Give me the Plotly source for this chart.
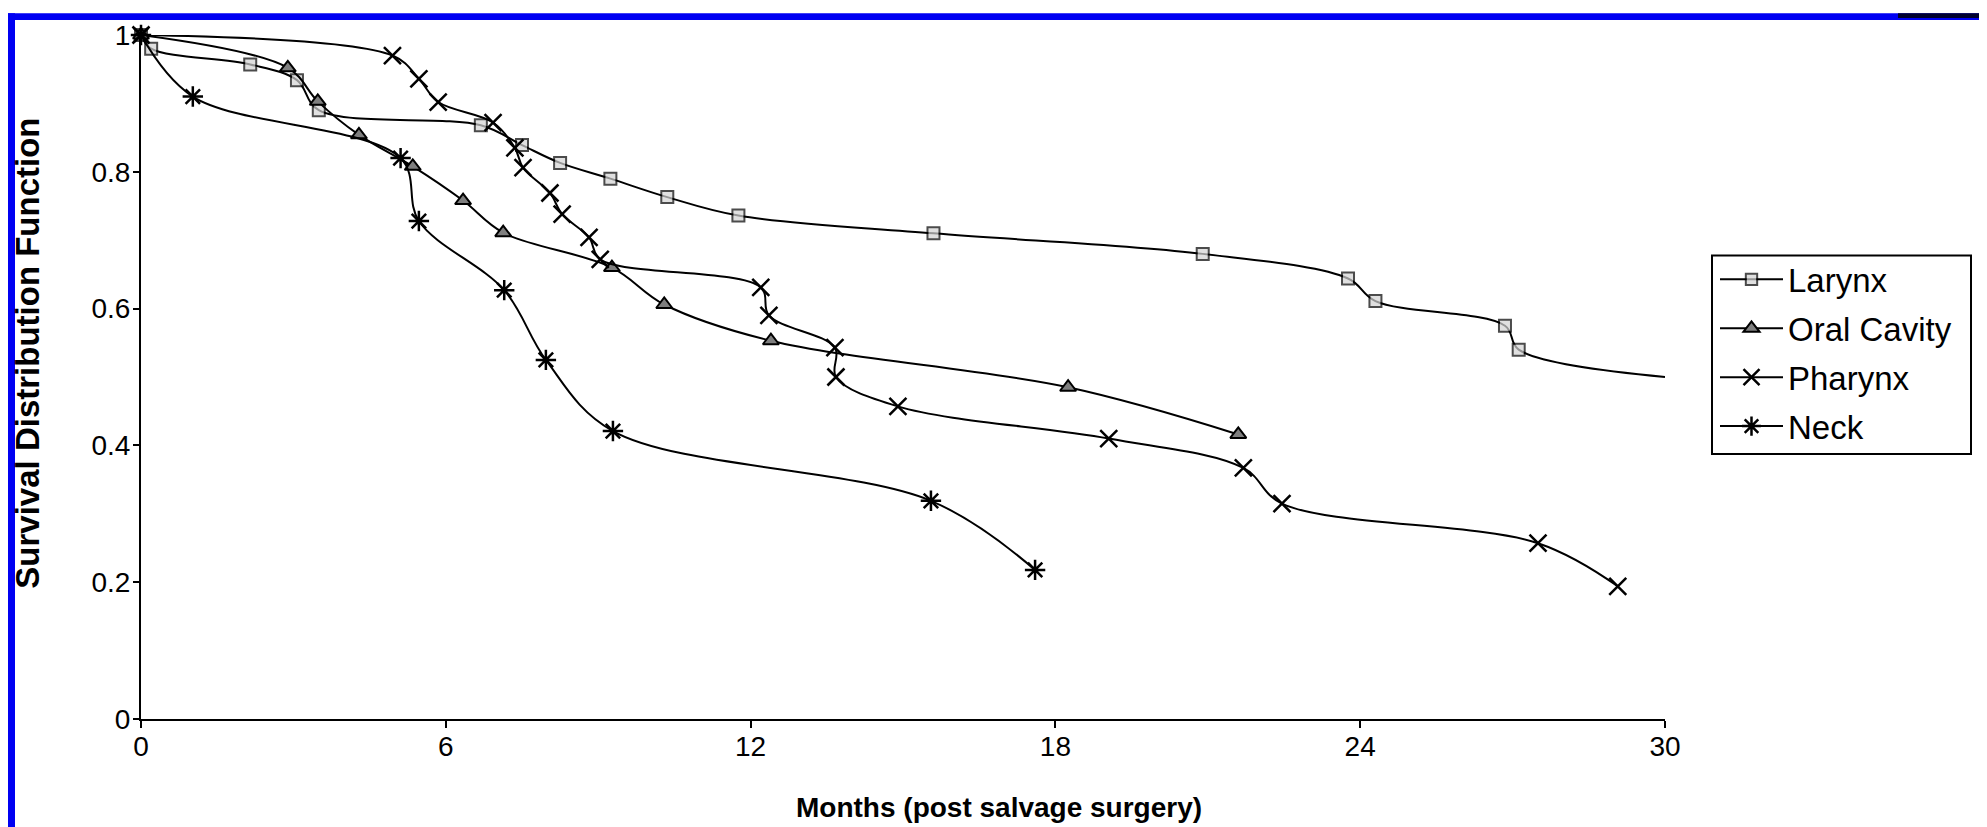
import plotly.graph_objects as go

# ---------------- data ----------------
larynx_x = [0, 0.2, 2.15, 3.07, 3.5, 6.69, 7.5, 8.25, 9.24, 10.36, 11.76, 15.6, 20.9, 23.76, 24.3, 26.85, 27.12, 30]
larynx_y = [1, 0.98, 0.957, 0.934, 0.89, 0.868, 0.839, 0.813, 0.79, 0.763, 0.736, 0.71, 0.68, 0.644, 0.611, 0.575, 0.54, 0.5]

oral_x = [0, 2.89, 3.48, 4.29, 5.35, 6.34, 7.13, 9.27, 10.3, 12.4, 18.25, 21.6]
oral_y = [1, 0.952, 0.903, 0.854, 0.808, 0.758, 0.711, 0.66, 0.606, 0.553, 0.485, 0.416]

pharynx_x = [0, 4.95, 5.47, 5.85, 6.93, 7.36, 7.52, 8.05, 8.29, 8.82, 9.04, 12.2, 12.36, 13.66, 13.68, 14.9, 19.05, 21.7, 22.46, 27.5, 29.07]
pharynx_y = [1, 0.97, 0.936, 0.902, 0.872, 0.835, 0.806, 0.769, 0.738, 0.704, 0.672, 0.631, 0.59, 0.543, 0.5, 0.457, 0.41, 0.367, 0.315, 0.257, 0.194]

neck_x = [0, 1.02, 5.11, 5.47, 7.15, 7.97, 9.29, 15.55, 17.6]
neck_y = [1, 0.91, 0.82, 0.728, 0.627, 0.525, 0.421, 0.319, 0.218]

x_ticks = [0, 6, 12, 18, 24, 30]
y_ticks = [0, 0.2, 0.4, 0.6, 0.8, 1]
y_ticktext = ["0", "0.2", "0.4", "0.6", "0.8", "1"]

# ---------------- geometry ----------------
W, H = 1987, 827
L, R, T, B = 133, 1657, 22, 711
FONT = "Liberation Sans, Arial, sans-serif"


def px(x):
    return (x - L) / (R - L)


def py(y):
    return 1 - (y - T) / (B - T)


fig = go.Figure()

line = dict(color="black", width=2, shape="spline")

fig.add_trace(go.Scatter(
    x=larynx_x, y=larynx_y, name="Larynx", mode="lines+markers", line=line,
    legendgroup="a",
    marker=dict(symbol="square", size=[12] * (len(larynx_x) - 1) + [0],
                color="#d4d4d4", line=dict(color="black", width=2)),
    cliponaxis=False))
fig.add_trace(go.Scatter(
    x=oral_x, y=oral_y, name="Oral Cavity", mode="lines+markers", line=line,
    legendgroup="b",
    marker=dict(symbol="triangle-up", size=14, color="#7f7f7f",
                line=dict(color="black", width=2)),
    cliponaxis=False))
fig.add_trace(go.Scatter(
    x=pharynx_x, y=pharynx_y, name="Pharynx", mode="lines+markers", line=line,
    legendgroup="c",
    marker=dict(symbol="x-thin-open", size=17, color="black",
                line=dict(color="black", width=2.5)),
    cliponaxis=False))
fig.add_trace(go.Scatter(
    x=neck_x, y=neck_y, name="Neck", mode="lines+markers", line=line,
    legendgroup="d",
    marker=dict(symbol="asterisk-open", size=17, color="black",
                line=dict(color="black", width=2.5)),
    cliponaxis=False))

shapes = [
    # left blue frame
    dict(type="rect", xref="paper", yref="paper", x0=px(0), x1=px(7), y0=py(H), y1=py(0),
         fillcolor="#0000f2", line=dict(width=0), layer="above"),
    # top blue frame
    dict(type="rect", xref="paper", yref="paper", x0=px(0), x1=px(W), y0=py(7), y1=py(0),
         fillcolor="#0000f2", line=dict(width=0), layer="above"),
    # right dark frame
    dict(type="rect", xref="paper", yref="paper", x0=px(1982), x1=px(W), y0=py(H), y1=py(0),
         fillcolor="#00002c", line=dict(width=0), layer="above"),
    dict(type="rect", xref="paper", yref="paper", x0=px(1890), x1=px(W), y0=py(5), y1=py(0),
         fillcolor="#00002c", line=dict(width=0), layer="above"),
    # legend frame
    dict(type="rect", xref="paper", yref="paper", x0=px(1704), x1=px(1963), y0=py(444), y1=py(244),
         fillcolor="rgba(0,0,0,0)", line=dict(color="black", width=2), layer="above"),
]

annotations = [
    dict(text="<b>Months (post salvage surgery)</b>", xref="paper", yref="paper",
         x=px(991), y=py(800), xanchor="center", yanchor="middle", showarrow=False,
         font=dict(family=FONT, size=28, color="black")),
    dict(text="<b>Survival Distribution Function</b>", xref="paper", yref="paper",
         x=px(20), y=py(343), xanchor="center", yanchor="middle", showarrow=False,
         textangle=-90, font=dict(family=FONT, size=33, color="black")),
]

fig.update_layout(
    width=W, height=H,
    margin=dict(l=L, r=W - R, t=T, b=H - B, pad=0),
    paper_bgcolor="white", plot_bgcolor="white",
    font=dict(family=FONT, size=28, color="black"),
    showlegend=True,
    legend=dict(x=px(1707), y=py(240), xanchor="left", yanchor="top",
                borderwidth=0, bgcolor="rgba(255,255,255,0)",
                font=dict(family=FONT, size=33, color="black"),
                tracegroupgap=3, itemwidth=63, traceorder="grouped"),
    shapes=shapes,
    annotations=annotations,
    xaxis=dict(range=[0, 30], tickvals=x_ticks, ticktext=[str(v) for v in x_ticks],
               showline=True, linecolor="black", linewidth=2, ticks="outside",
               ticklen=7, tickwidth=2, tickcolor="black", showgrid=False,
               zeroline=False, tickfont=dict(family=FONT, size=28), fixedrange=True,
               ticklabelstandoff=-6),
    yaxis=dict(range=[0, 1], tickvals=y_ticks, ticktext=y_ticktext,
               showline=True, linecolor="black", linewidth=2, ticks="outside",
               ticklen=6, tickwidth=2, tickcolor="black", showgrid=False,
               zeroline=False, tickfont=dict(family=FONT, size=28), fixedrange=True,
               ticklabelstandoff=-3),
)

fig.write_html("out.html")
